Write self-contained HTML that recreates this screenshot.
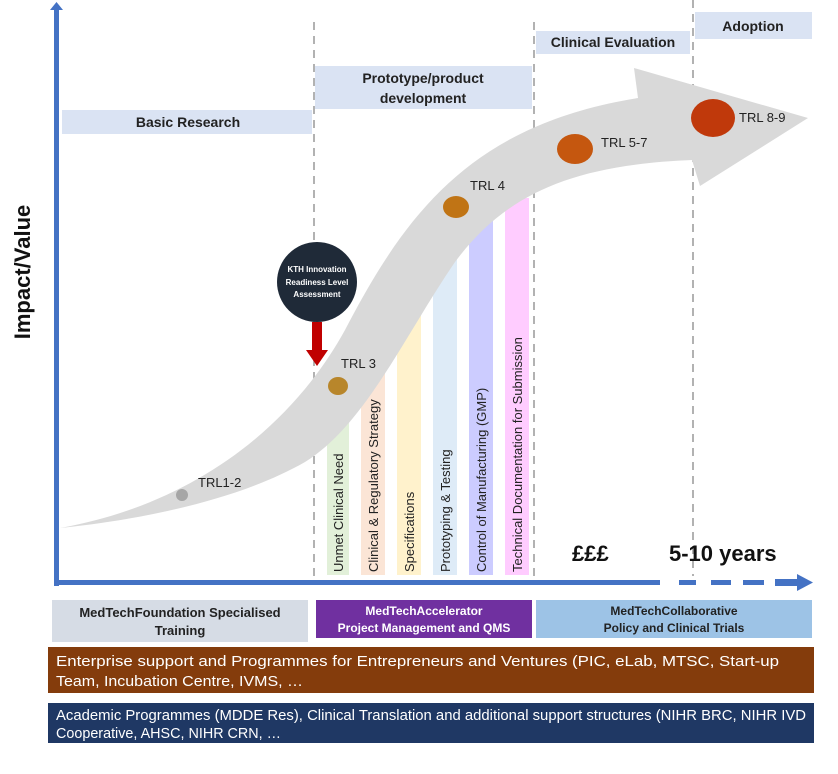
<!DOCTYPE html>
<html><head><meta charset="utf-8"><style>
body{margin:0;background:#fff}
svg{display:block;font-family:"Liberation Sans",sans-serif}
</style></head><body>
<svg width="838" height="774" viewBox="0 0 838 774" xmlns="http://www.w3.org/2000/svg">
<rect x="62" y="110" width="250" height="24" fill="#dae3f3"/>
<text x="188" y="127" font-size="14" font-weight="bold" text-anchor="middle" fill="#222">Basic Research</text>
<rect x="315" y="66" width="217" height="43" fill="#dae3f3"/>
<text x="423" y="83" font-size="14" font-weight="bold" text-anchor="middle" fill="#222">Prototype/product</text>
<text x="423" y="103" font-size="14" font-weight="bold" text-anchor="middle" fill="#222">development</text>
<rect x="536" y="31" width="154" height="23" fill="#dae3f3"/>
<text x="613" y="47" font-size="14" font-weight="bold" text-anchor="middle" fill="#222">Clinical Evaluation</text>
<rect x="695" y="12" width="117" height="27" fill="#dae3f3"/>
<text x="753" y="31" font-size="14" font-weight="bold" text-anchor="middle" fill="#222">Adoption</text>
<g stroke="#999" stroke-width="1.5" stroke-dasharray="8,6">
<line x1="314" y1="22" x2="314" y2="576"/>
<line x1="534" y1="22" x2="534" y2="576"/>
<line x1="693" y1="0" x2="693" y2="576"/>
</g>
<rect x="327" y="400" width="22" height="175" fill="#e2f0d9"/>
<rect x="361" y="360" width="24" height="215" fill="#fbe5d6"/>
<rect x="397" y="300" width="24" height="275" fill="#fff2cc"/>
<rect x="433" y="250" width="24" height="325" fill="#deebf7"/>
<rect x="469" y="215" width="24" height="360" fill="#ccccff"/>
<rect x="505" y="198" width="24" height="377" fill="#ffccff"/>
<path d="M60,528 C190,505 290,430 345,330 C405,215 470,125 638,98 L634,68 L808,118 L700,186 L692,160 C570,165 505,195 455,262 C405,335 365,425 305,462 C230,505 120,522 60,528 Z" fill="#d9d9d9"/>
<g font-size="13" fill="#222">
<text transform="translate(343,572) rotate(-90)">Unmet Clinical Need</text>
<text transform="translate(378,572) rotate(-90)">Clinical &amp; Regulatory Strategy</text>
<text transform="translate(414,572) rotate(-90)">Specifications</text>
<text transform="translate(450,572) rotate(-90)">Prototyping &amp; Testing</text>
<text transform="translate(486,572) rotate(-90)">Control of Manufacturing (GMP)</text>
<text transform="translate(522,572) rotate(-90)">Technical Documentation for Submission</text>
</g>
<circle cx="182" cy="495" r="6" fill="#a6a6a6"/>
<ellipse cx="338" cy="386" rx="10" ry="9" fill="#b8862b"/>
<ellipse cx="456" cy="207" rx="13" ry="11" fill="#c07415"/>
<ellipse cx="575" cy="149" rx="18" ry="15" fill="#c5570f"/>
<ellipse cx="713" cy="118" rx="22" ry="19" fill="#c0390b"/>
<g font-size="13" fill="#222">
<text x="198" y="487">TRL1-2</text>
<text x="341" y="368">TRL 3</text>
<text x="470" y="190">TRL 4</text>
<text x="601" y="147">TRL 5-7</text>
<text x="739" y="122">TRL 8-9</text>
</g>
<circle cx="317" cy="282" r="40" fill="#1f2a38"/>
<g font-size="8" font-weight="bold" fill="#fff" text-anchor="middle">
<text x="317" y="272">KTH Innovation</text>
<text x="317" y="285">Readiness Level</text>
<text x="317" y="297">Assessment</text>
</g>
<rect x="312" y="322" width="10" height="30" fill="#c00000"/>
<polygon points="306,350 328,350 317,366" fill="#c00000"/>
<rect x="54" y="8" width="5" height="578" fill="#4472c4"/>
<polygon points="50,10 63,10 56.5,2" fill="#4472c4"/>
<rect x="54" y="580" width="606" height="5" fill="#4472c4"/>
<g fill="#4472c4">
<rect x="679" y="580" width="17" height="5"/>
<rect x="711" y="580" width="20" height="5"/>
<rect x="743" y="580" width="21" height="5"/>
<rect x="775" y="579" width="22" height="7"/>
<polygon points="797,574 797,591 813,582.5"/>
</g>
<text transform="translate(30,272) rotate(-90)" font-size="22" font-weight="bold" text-anchor="middle" fill="#111">Impact/Value</text>
<text x="572" y="561" font-size="22" font-weight="bold" fill="#111">£££</text>
<text x="669" y="561" font-size="22" font-weight="bold" fill="#111">5-10 years</text>
<rect x="52" y="600" width="256" height="42" fill="#d6dce5"/>
<text x="180" y="617" font-size="13" font-weight="bold" text-anchor="middle" fill="#222">MedTechFoundation Specialised</text>
<text x="180" y="635" font-size="13" font-weight="bold" text-anchor="middle" fill="#222">Training</text>
<rect x="316" y="600" width="216" height="38" fill="#7030a0"/>
<text x="424" y="615" font-size="12" font-weight="bold" text-anchor="middle" fill="#fff">MedTechAccelerator</text>
<text x="424" y="632" font-size="12" font-weight="bold" text-anchor="middle" fill="#fff">Project Management and QMS</text>
<rect x="536" y="600" width="276" height="38" fill="#9dc3e6"/>
<text x="674" y="615" font-size="12" font-weight="bold" text-anchor="middle" fill="#222">MedTechCollaborative</text>
<text x="674" y="632" font-size="12" font-weight="bold" text-anchor="middle" fill="#222">Policy and Clinical Trials</text>
<rect x="48" y="647" width="766" height="46" fill="#843c0c"/>
<text x="56" y="666" font-size="15" fill="#fff" textLength="723" lengthAdjust="spacingAndGlyphs">Enterprise support and Programmes for Entrepreneurs and Ventures (PIC, eLab, MTSC, Start-up</text>
<text x="56" y="686" font-size="15" fill="#fff" textLength="247" lengthAdjust="spacingAndGlyphs">Team, Incubation Centre, IVMS, …</text>
<rect x="48" y="703" width="766" height="40" fill="#1f3864"/>
<text x="56" y="720" font-size="15" fill="#fff" textLength="750" lengthAdjust="spacingAndGlyphs">Academic Programmes (MDDE Res), Clinical Translation and additional support structures (NIHR BRC, NIHR IVD</text>
<text x="56" y="738" font-size="15" fill="#fff" textLength="225" lengthAdjust="spacingAndGlyphs">Cooperative, AHSC, NIHR CRN, …</text>
</svg>
</body></html>
